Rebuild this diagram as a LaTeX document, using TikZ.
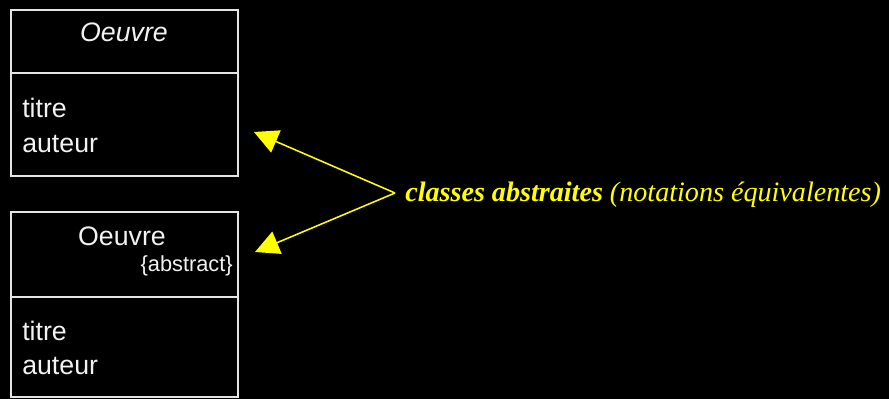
\documentclass[tikz,border=0pt]{standalone}
\usepackage{fontspec}
\setmainfont{Liberation Serif}
\setsansfont{Liberation Sans}
\usetikzlibrary{arrows.meta,positioning}
\definecolor{noteYellow}{HTML}{FFFF00}
\definecolor{frameGrey}{HTML}{E4E4E4}
\definecolor{textGrey}{HTML}{F2F2F2}

\begin{document}
\begin{tikzpicture}[x=0.025cm, y=-0.025cm, >=Latex]

    \tikzset{compart/.style={draw=frameGrey, line width=1.1pt, outer sep=0pt,
        inner sep=0pt, minimum width=5.675cm},
      uml/.style={text=textGrey, font=\sffamily\fontsize{19}{22}\selectfont,
        inner sep=0pt},
      note/.style={text=noteYellow, font=\fontsize{20}{24}\selectfont,
        inner sep=0pt, text height=12.8pt, text depth=0pt}}

    % background
    \fill[black] (0,0) rectangle (889,399);
    \useasboundingbox (0,0) rectangle (889,399);

    % first class: name in italics
    \node[compart, minimum height=1.575cm, anchor=north west] (headA) at (11,10) {};
    \node[compart, minimum height=2.575cm, below=0pt of headA] (attrA) {};
    \node[uml] (nameA) at (124,32) {\itshape Oeuvre};
    \node[uml, anchor=west] (titreA) at (22,108) {titre};
    \node[uml, anchor=west] (auteurA) at (22,144) {auteur};

    % second class: {abstract} tag
    \node[compart, minimum height=2.125cm, anchor=north west] (headB) at (11,212) {};
    \node[compart, minimum height=2.5cm, below=0pt of headB] (attrB) {};
    \node[uml] (nameB) at (122,236) {Oeuvre};
    \node[uml, font=\sffamily\fontsize{15.5}{18}\selectfont, anchor=east]
        (tagB) at (233,266) {\{abstract\}};
    \node[uml, anchor=west] (titreB) at (22,331) {titre};
    \node[uml, anchor=west] (auteurB) at (22,366) {auteur};

    % comment and its two arrows
    \node[note, anchor=west, inner xsep=0.25cm] (note) at (395,193)
        {\textbf{\textit{classes abstraites}} \textit{(notations équivalentes)}};
    \coordinate (tipA) at (254,132);
    \coordinate (tipB) at (255,252);
    \draw[noteYellow, line width=1.1pt,
        -{Triangle[length=17pt, width=17pt]}] (note.west) -- (tipA);
    \draw[noteYellow, line width=1.1pt,
        -{Triangle[length=17pt, width=17pt]}] (note.west) -- (tipB);

\end{tikzpicture}
\end{document}
